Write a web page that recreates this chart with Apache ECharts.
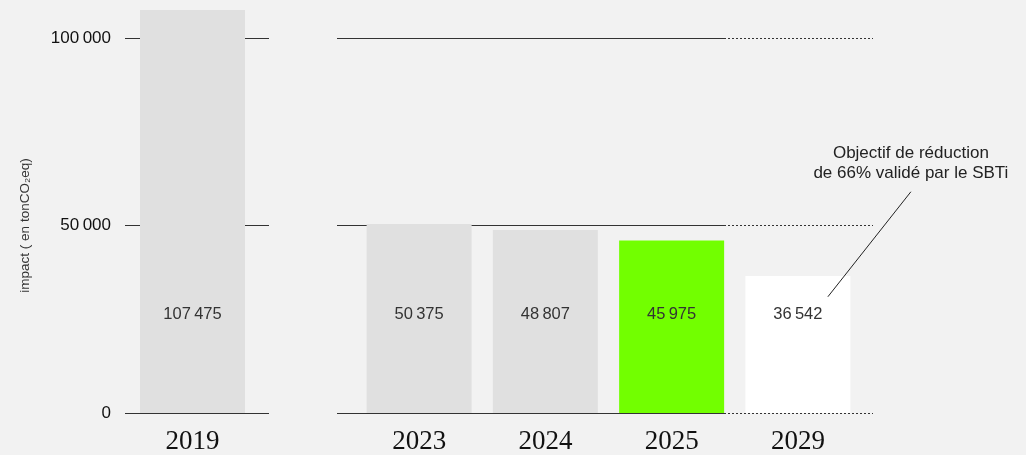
<!DOCTYPE html>
<html>
<head>
<meta charset="utf-8">
<style>
  html, body { margin: 0; padding: 0; background: #f2f2f2; }
  #chart { width: 1026px; height: 455px; }
</style>
<script src="https://cdn.jsdelivr.net/npm/echarts@6/dist/echarts.min.js"></script>
</head>
<body>
<div id="chart"></div>
<script>
// Reference year
const baselineYears = ['2019'];
const baselineValues = [107475];

// Trajectory years and emissions (tCO2eq)
const trajectoryYears = ['2023', '2024', '2025', '2029'];
const trajectoryValues = [50375, 48807, 45975, 36542];
const trajectoryColors = ['#e0e0e0', '#e0e0e0', '#72ff00', '#ffffff'];

// Value axis ticks
const yTicks = [0, 50000, 100000];

const yAxisTitle = 'impact ( en tonCO\u2082eq)';
const targetNote = 'Objectif de réduction\nde 66% validé par le SBTi';
const targetYear = '2029';

const SANS = '"Liberation Sans", Arial, sans-serif';
const SERIF = '"Liberation Serif", "Times New Roman", serif';

// thousands grouped with a thin space
function fmt(v) {
  return String(v).replace(/\B(?=(\d{3})+(?!\d))/g, '\u2009');
}

const chart = echarts.init(document.getElementById('chart'), null, { renderer: 'canvas' });

const tickMin = yTicks[0];
const tickMax = yTicks[yTicks.length - 1];
const tickStep = yTicks[1] - yTicks[0];

// Grids 0-2 carry the horizontal rules, grids 3-4 carry the bars.
const ruleGrids = [
  { left: 125, width: 144, dotted: false, labels: true },
  { left: 337, width: 387, dotted: false, labels: false },
  { left: 724, width: 149, dotted: true, labels: false }
];

const grid = [];
const xAxis = [];
const yAxis = [];

ruleGrids.forEach(function (g, i) {
  grid.push({ left: g.left, width: g.width, top: 38, height: 375 });
  xAxis.push({ gridIndex: i, type: 'category', data: [''], show: false });
  yAxis.push({
    gridIndex: i,
    type: 'value',
    min: tickMin,
    max: tickMax,
    interval: tickStep,
    axisLine: { show: false },
    axisTick: { show: false },
    axisLabel: {
      show: g.labels,
      margin: 14,
      color: '#111',
      fontFamily: SANS,
      fontSize: 17,
      formatter: fmt
    },
    name: g.labels ? yAxisTitle : '',
    nameLocation: 'middle',
    nameRotate: 90,
    nameGap: 93,
    nameTextStyle: { color: '#333', fontFamily: SANS, fontSize: 13.5 },
    splitLine: {
      show: true,
      lineStyle: { color: '#333', width: 1, type: g.dotted ? [2, 2] : 'solid' }
    }
  });
});

// bar grids share the same vertical scale (375px per 100 000)
grid.push({ left: 140, width: 105, top: 0.5, height: 412.5 });
grid.push({ left: 356, width: 505, top: 0.5, height: 412.5 });

[baselineYears, trajectoryYears].forEach(function (cats, k) {
  const gi = 3 + k;
  xAxis.push({
    gridIndex: gi,
    type: 'category',
    data: cats,
    axisLine: { show: false },
    axisTick: { show: false },
    axisLabel: {
      margin: 15,
      color: '#111',
      fontFamily: SERIF,
      fontSize: 27
    }
  });
  yAxis.push({ gridIndex: gi, type: 'value', min: 0, max: 110000, show: false });
});

const valueLabel = {
  show: true,
  position: 'insideBottom',
  distance: 90,
  color: '#333',
  fontFamily: SANS,
  fontSize: 16.5,
  formatter: function (p) { return fmt(p.value); }
};

const series = [
  {
    type: 'bar',
    xAxisIndex: 3,
    yAxisIndex: 3,
    barWidth: 105,
    data: baselineValues,
    itemStyle: { color: '#e0e0e0' },
    label: valueLabel,
    silent: true
  },
  {
    type: 'bar',
    xAxisIndex: 4,
    yAxisIndex: 4,
    barWidth: 105,
    data: trajectoryValues.map(function (v, i) {
      return { value: v, itemStyle: { color: trajectoryColors[i] } };
    }),
    label: valueLabel,
    silent: true
  }
];

chart.setOption({
  backgroundColor: '#f2f2f2',
  animation: false,
  grid: grid,
  xAxis: xAxis,
  yAxis: yAxis,
  series: series
});

// Callout for the SBTi target, anchored to the target-year bar
const lineEnd = chart.convertToPixel({ gridIndex: 4 }, [targetYear, 31000]);
const lineStart = chart.convertToPixel({ gridIndex: 4 }, [targetYear, 59000]);
const x0 = lineStart[0] + 113;
const y0 = lineStart[1];
const x1 = lineEnd[0] + 30;
const y1 = lineEnd[1];

chart.setOption({
  graphic: [
    {
      type: 'line',
      z: 100,
      shape: { x1: x0, y1: y0, x2: x1, y2: y1 },
      style: { stroke: '#222', lineWidth: 1 },
      silent: true
    },
    {
      type: 'text',
      z: 100,
      x: x0,
      y: y0 - 8,
      style: {
        text: targetNote,
        fill: '#222',
        font: '17px ' + SANS,
        align: 'center',
        verticalAlign: 'bottom',
        lineHeight: 20.5
      },
      silent: true
    }
  ]
});
</script>
</body>
</html>
